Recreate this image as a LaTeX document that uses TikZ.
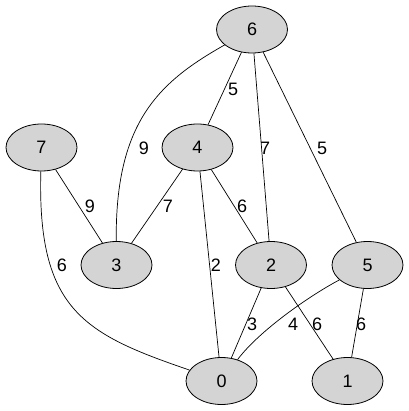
\documentclass[tikz,border=0pt]{standalone}
\usepackage{fontspec}
\setmainfont{Liberation Sans}
\usetikzlibrary{shapes.geometric}
\begin{document}
\begin{tikzpicture}[x=1pt,y=-1pt,
  vert/.style={ellipse,draw=black,fill=black!17,line width=0.8pt,minimum width=71pt,minimum height=47pt,inner sep=0pt,font=\fontsize{18}{20}\selectfont},
  wlabel/.style={inner sep=0pt,font=\fontsize{18}{20}\selectfont},
  conn/.style={draw=black,line width=0.7pt}]
\useasboundingbox (0,0) rectangle (408,411);
\node[vert] (n6) at (252,29.5) {6};
\node[vert] (n7) at (41.5,147.5) {7};
\node[vert] (n4) at (197.5,147.5) {4};
\node[vert] (n3) at (116.5,265) {3};
\node[vert] (n2) at (271,265) {2};
\node[vert] (n5) at (367.5,265) {5};
\node[vert] (n0) at (221.5,381) {0};
\node[vert] (n1) at (347.5,381) {1};
\path[conn] (n6) -- (n4);
\path[conn] (n6) .. controls (159,82) and (115,122) .. (n3);
\path[conn] (n6) -- (n2);
\path[conn] (n6) -- (n5);
\path[conn] (n7) -- (n3);
\path[conn] (n7) .. controls (37,310) and (84,334) .. (n0);
\path[conn] (n4) -- (n3);
\path[conn] (n4) -- (n2);
\path[conn] (n4) -- (n0);
\path[conn] (n2) -- (n0);
\path[conn] (n2) -- (n1);
\path[conn] (n5) .. controls (309,296) and (259,331) .. (n0);
\path[conn] (n5) -- (n1);
\node[wlabel] (l64) at (233,89) {5};
\node[wlabel] (l63) at (144,148) {9};
\node[wlabel] (l62) at (265,148) {7};
\node[wlabel] (l65) at (322,148) {5};
\node[wlabel] (l73) at (90,206) {9};
\node[wlabel] (l43) at (168,206) {7};
\node[wlabel] (l42) at (242,206) {6};
\node[wlabel] (l70) at (62,265) {6};
\node[wlabel] (l40) at (216,265) {2};
\node[wlabel] (l20) at (252,324.5) {3};
\node[wlabel] (l50) at (293,324.5) {4};
\node[wlabel] (l21) at (317,324.5) {6};
\node[wlabel] (l51) at (361,324.5) {6};
\end{tikzpicture}
\end{document}
